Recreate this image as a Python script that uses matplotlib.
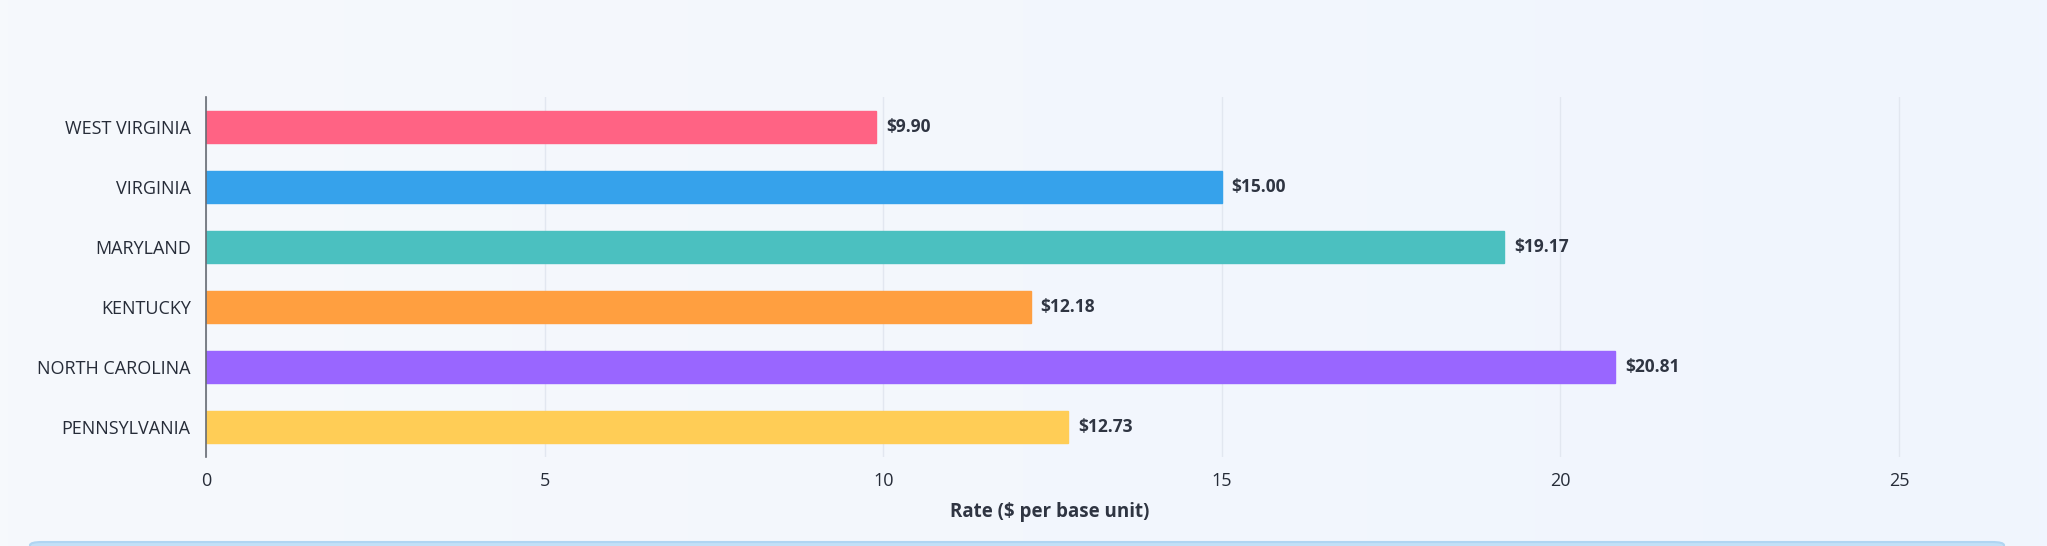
import matplotlib
matplotlib.use("Agg")
import matplotlib.pyplot as plt
import numpy as np
from matplotlib.patches import FancyBboxPatch

states = ["WEST VIRGINIA", "VIRGINIA", "MARYLAND", "KENTUCKY", "NORTH CAROLINA", "PENNSYLVANIA"]
rates = [9.90, 15.00, 19.17, 12.18, 20.81, 12.73]
colors = ["#ff6384", "#36a2eb", "#4bc0c0", "#ff9f40", "#9966ff", "#ffcd56"]
x_ticks = [0, 5, 10, 15, 20, 25]
x_label = "Rate ($ per base unit)"

plt.rcParams['font.family'] = ['Open Sans', 'DejaVu Sans']

W, H = 2047, 546
fig = plt.figure(figsize=(W / 100, H / 100), dpi=100)

# background gradient
bg = fig.add_axes([0, 0, 1, 1], zorder=-10)
grad = np.linspace(0, 1, 256)[None, :, None]
c0 = np.array([246, 249, 252]) / 255
c1 = np.array([240, 245, 254]) / 255
img = c0 + (c1 - c0) * grad
bg.imshow(img, aspect="auto", extent=[0, 1, 0, 1])
bg.set_axis_off()

# bottom panel edge
box = FancyBboxPatch((30 / W, -32 / H), (2004 - 30) / W, 36 / H,
                     boxstyle="round,pad=0,rounding_size=0.006",
                     transform=fig.transFigure, facecolor="#c2e0f7",
                     edgecolor="#b0d5f2", linewidth=1.5, zorder=5)
fig.add_artist(box)

left = 206 / W
bottom = 1 - 457 / H
top = 1 - 97 / H
xmax = 27.0
px_per_unit = (1899 - 206) / 25
width = xmax * px_per_unit / W
ax = fig.add_axes([left, bottom, width, top - bottom])
ax.set_facecolor("none")

y = np.arange(len(states))
ax.barh(y, rates, height=0.53, color=colors, edgecolor=colors, linewidth=1, zorder=3)
ax.set_ylim(len(states) - 0.5, -0.5)
ax.set_xlim(0, xmax)
ax.set_yticks(y)
ax.set_yticklabels(states, fontsize=13, color="#262c38")
ax.set_xticks(x_ticks)
ax.set_xticklabels([str(t) for t in x_ticks], fontsize=13, color="#262c38")
ax.tick_params(axis="y", length=0, pad=11)
ax.tick_params(axis="x", length=0, pad=11)
ax.grid(axis="x", color="#e2e7f0", linewidth=1, zorder=0)
for s in ["top", "right", "bottom"]:
    ax.spines[s].set_visible(False)
ax.spines["left"].set_color("#666b73")
ax.spines["left"].set_linewidth(1.2)
ax.spines["left"].set_zorder(4)

for yi, v in zip(y, rates):
    ax.annotate(f"${v:.2f}", xy=(v, yi), xytext=(7, 0), textcoords="offset points",
                ha="left", va="center", fontsize=12.5, fontweight="bold", color="#2f3542")

fig.text(1050 / W, 1 - 512 / H, x_label, ha="center", va="center",
         fontsize=13.5, fontweight="bold", color="#2f3542")

fig.savefig("out.png", dpi=100)
